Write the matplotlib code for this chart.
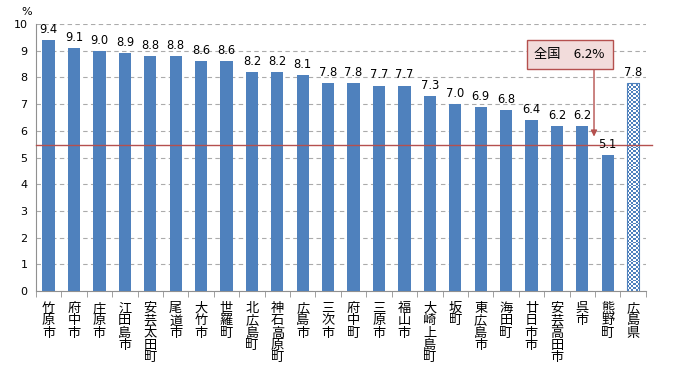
import numpy as np
import matplotlib
matplotlib.use("Agg")
import matplotlib.pyplot as plt

plt.rcParams['font.family'] = ['Noto Sans CJK JP', 'DejaVu Sans']

# data
areas = ["竹原市", "府中市", "庄原市", "江田島市", "安芸太田町", "尾道市", "大竹市", "世羅町",
         "北広島町", "神石高原町", "広島市", "三次市", "府中町", "三原市", "福山市", "大崎上島町",
         "坂町", "東広島市", "海田町", "廿日市市", "安芸高田市", "呉市", "熊野町", "広島県"]
values = [9.4, 9.1, 9.0, 8.9, 8.8, 8.8, 8.6, 8.6, 8.2, 8.2, 8.1, 7.8, 7.8, 7.7, 7.7, 7.3,
          7.0, 6.9, 6.8, 6.4, 6.2, 6.2, 5.1, 7.8]
national_label = "全国　6.2%"
national_line = 5.48
yticks = list(range(0, 11))

blue = "#4F81BD"
red = "#B5504E"

fig = plt.figure(figsize=(6.77, 3.71), dpi=100)
ax = fig.add_axes([0.053, 0.2156, 0.901, 0.7194])

x = np.arange(len(areas))
bars = ax.bar(x, values, width=0.48, color=blue, zorder=3)

# checkered pattern for the prefecture bar
last = bars[-1]
last.set_facecolor("white")
n_row, n_col = 110, 6
checker = (np.indices((n_row, n_col)).sum(axis=0) % 2).astype(float)
img = ax.imshow(checker, cmap=matplotlib.colors.ListedColormap(["white", blue]),
                extent=[last.get_x(), last.get_x() + last.get_width(), 0, last.get_height()],
                aspect="auto", interpolation="nearest", zorder=4)
img.set_clip_path(last)
ax.bar(x[-1], values[-1], width=0.48, facecolor="none", edgecolor=blue, linewidth=0.8, zorder=5)

for xi, v in zip(x, values):
    ax.text(xi, v + 0.15, f"{v:.1f}", ha="center", va="bottom", fontsize=8.3,
            family="DejaVu Sans", zorder=6)

ax.set_xlim(-0.5, len(areas) - 0.5)
ax.set_ylim(0, 10)
ax.set_yticks(yticks)
ax.set_yticklabels([str(t) for t in yticks], fontsize=8, family="DejaVu Sans")
ax.yaxis.grid(True, color="#ABABAB", linestyle=(0, (4, 3)), linewidth=0.8, zorder=0)
ax.tick_params(axis="y", length=0, pad=6)

ax.set_xticks(x)
ax.set_xticklabels(["\n".join(a) for a in areas], fontsize=9.5, va="top", linespacing=0.93)
ax.tick_params(axis="x", length=0, pad=8)
ax.set_xticks(np.arange(-0.5, len(areas)), minor=True)
ax.tick_params(axis="x", which="minor", length=4, color="#909090", direction="out")

for s in ["top", "right"]:
    ax.spines[s].set_visible(False)
ax.spines["left"].set_color("#909090")
ax.spines["bottom"].set_color("#909090")

ax.text(-0.85, 10.25, "%", fontsize=8, family="DejaVu Sans", ha="center", va="bottom")

# national line and callout
ax.axhline(national_line, xmin=0, xmax=1.01, color=red, linewidth=1.0, zorder=5, clip_on=False)
ax.annotate("", xy=(21.46, national_line + 0.2), xytext=(21.46, 8.39),
            arrowprops=dict(arrowstyle="-|>", color=red, lw=1.0, mutation_scale=9), zorder=6)
ax.text(20.5, 8.87, national_label, fontsize=9.5, ha="center", va="center", zorder=7,
        bbox=dict(boxstyle="square,pad=0.6", facecolor="#F2DCDB", edgecolor=red, linewidth=1.0))

fig.savefig("out.png", dpi=100)
